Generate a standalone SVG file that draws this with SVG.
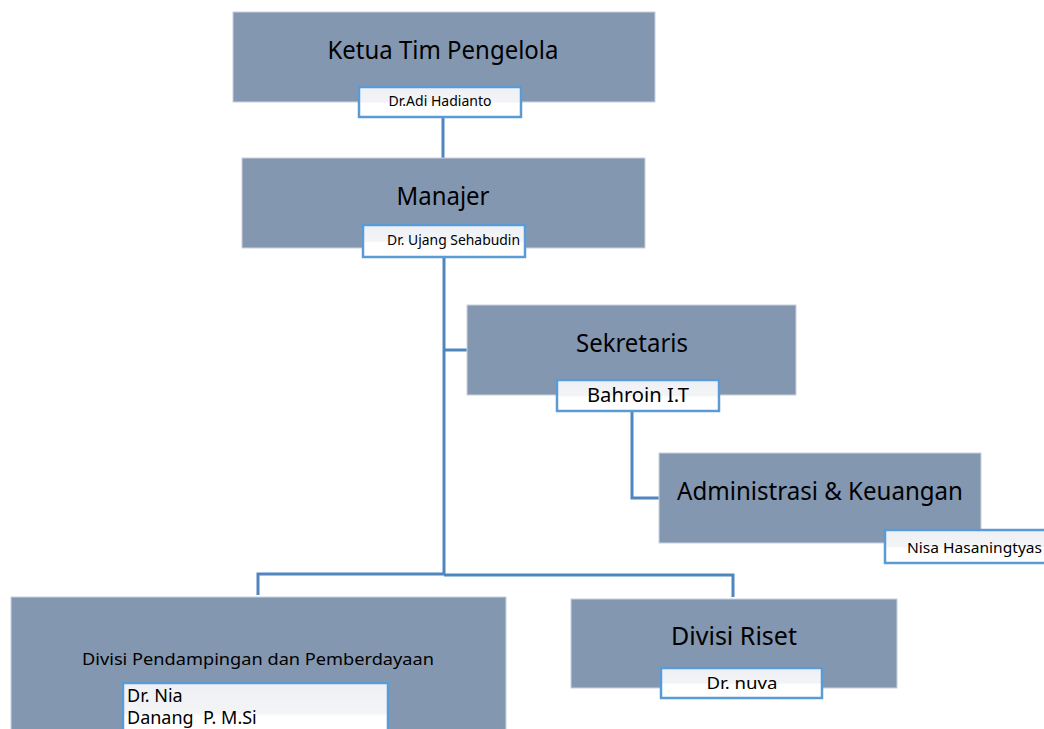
<svg xmlns="http://www.w3.org/2000/svg" width="1044" height="729" viewBox="0 0 1044 729">
<defs>
<linearGradient id="lbl" x1="0" y1="0" x2="0" y2="1">
<stop offset="0" stop-color="#eef0f4"/>
<stop offset="0.5" stop-color="#f3f4f6"/>
<stop offset="0.55" stop-color="#ffffff"/>
<stop offset="1" stop-color="#ffffff"/>
</linearGradient>
</defs>
<style>
.box{fill:#8497b0;stroke:#c9d2de;stroke-width:1}
.lbl{fill:url(#lbl);stroke:#5b9bd5;stroke-width:2.5}
.t{font-family:"Noto Sans","Open Sans",sans-serif;fill:#000}
.c{fill:none;stroke:#4f86c0;stroke-width:3}
</style>
<rect width="1044" height="729" fill="#ffffff"/>
<g id="connectors">
<path class="c" d="M443 117 V158"/>
<path class="c" d="M444 257 V575"/>
<path class="c" d="M444 350 H467"/>
<path class="c" d="M632 411 V498 H659"/>
<path class="c" d="M444 574 H258 V595"/>
<path class="c" d="M444 575 H733 V597"/>
</g>
<g id="ketua">
<rect class="box" x="233" y="12" width="422" height="90"/>
<text class="t" x="443" y="59" font-size="25" text-anchor="middle" textLength="231" lengthAdjust="spacingAndGlyphs">Ketua Tim Pengelola</text>
<rect class="lbl" x="359" y="87" width="162" height="30"/>
<text class="t" x="440" y="106" font-size="13.5" text-anchor="middle" textLength="103" lengthAdjust="spacingAndGlyphs">Dr.Adi Hadianto</text>
</g>
<g id="manajer">
<rect class="box" x="242" y="158" width="403" height="90"/>
<text class="t" x="443" y="205" font-size="25" text-anchor="middle" textLength="93" lengthAdjust="spacingAndGlyphs">Manajer</text>
<rect class="lbl" x="363" y="225" width="162" height="32"/>
<text class="t" x="387" y="245" font-size="13.5" textLength="133" lengthAdjust="spacingAndGlyphs">Dr. Ujang Sehabudin</text>
</g>
<g id="sekretaris">
<rect class="box" x="467" y="305" width="329" height="90"/>
<text class="t" x="632" y="352" font-size="25" text-anchor="middle" textLength="112" lengthAdjust="spacingAndGlyphs">Sekretaris</text>
<rect class="lbl" x="557" y="380" width="162" height="31"/>
<text class="t" x="638" y="402" font-size="19" text-anchor="middle" textLength="102" lengthAdjust="spacingAndGlyphs">Bahroin I.T</text>
</g>
<g id="administrasi">
<rect class="box" x="659" y="453" width="322" height="90"/>
<text class="t" x="820" y="500" font-size="25" text-anchor="middle" textLength="286" lengthAdjust="spacingAndGlyphs">Administrasi &amp; Keuangan</text>
<rect class="lbl" x="885" y="530" width="170" height="33"/>
<text class="t" x="907" y="553" font-size="14" textLength="135" lengthAdjust="spacingAndGlyphs">Nisa Hasaningtyas</text>
</g>
<g id="divisi-pendampingan">
<rect class="box" x="11" y="597" width="495" height="140"/>
<text class="t" x="258" y="665" font-size="17" text-anchor="middle" textLength="352" lengthAdjust="spacingAndGlyphs">Divisi Pendampingan dan Pemberdayaan</text>
<rect class="lbl" x="123" y="683" width="265" height="60"/>
<text class="t" x="127" y="702" font-size="18">Dr. Nia</text>
<text class="t" x="127" y="724" font-size="18" xml:space="preserve">Danang  P. M.Si</text>
</g>
<g id="divisi-riset">
<rect class="box" x="571" y="599" width="326" height="89"/>
<text class="t" x="734" y="645" font-size="25" text-anchor="middle" textLength="126" lengthAdjust="spacingAndGlyphs">Divisi Riset</text>
<rect class="lbl" x="661" y="668" width="161" height="30"/>
<text class="t" x="742" y="689" font-size="17" text-anchor="middle" textLength="71" lengthAdjust="spacingAndGlyphs">Dr. nuva</text>
</g>
</svg>
